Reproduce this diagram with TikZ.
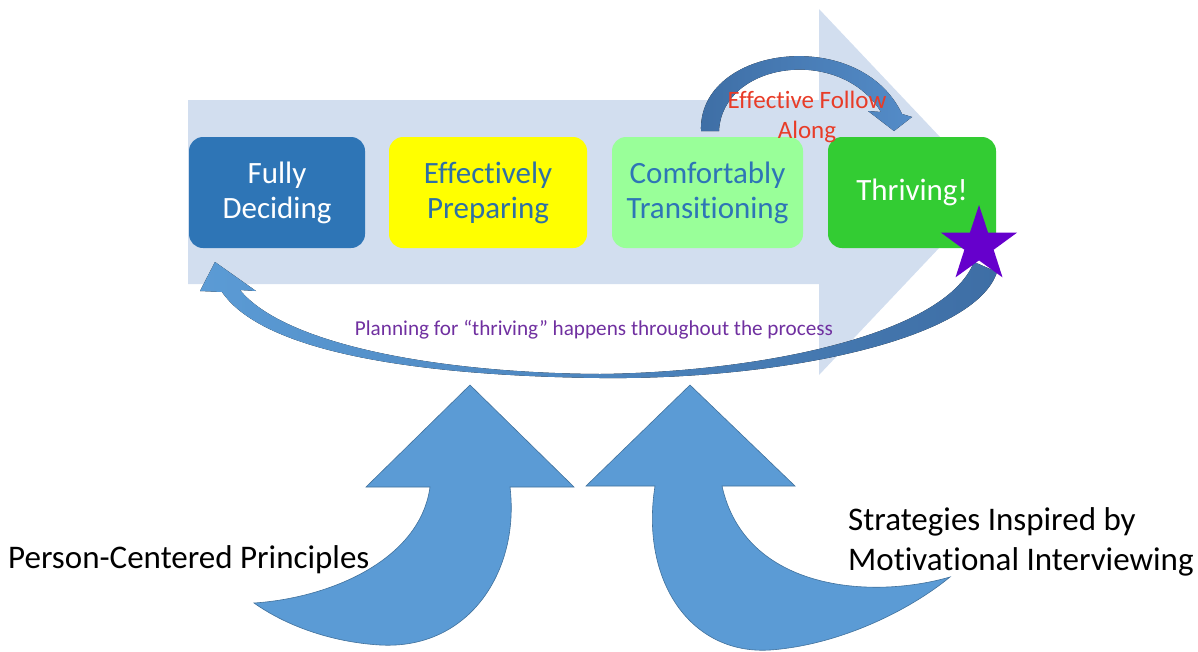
\documentclass[tikz,border=0pt]{standalone}
\usepackage{fontspec}
\setmainfont{Carlito}[Ligatures=CommonOff]
\usetikzlibrary{shapes.geometric, positioning}
\definecolor{bgarrow}{RGB}{210,222,239}
\definecolor{decide}{RGB}{46,117,182}
\definecolor{prepare}{RGB}{255,255,0}
\definecolor{transit}{RGB}{153,255,153}
\definecolor{thrive}{RGB}{51,204,51}
\definecolor{bluetext}{RGB}{46,112,165}
\definecolor{arcblue}{RGB}{84,140,200}
\definecolor{darkarc}{RGB}{62,110,165}
\definecolor{upblue}{RGB}{91,155,213}
\definecolor{upedge}{RGB}{65,113,156}
\definecolor{starpurple}{RGB}{102,0,204}
\definecolor{followred}{RGB}{232,60,40}
\definecolor{planpurple}{RGB}{112,48,160}
\tikzset{
  stage/.style={rounded corners=14pt, minimum height=111pt, inner sep=0pt, align=center, font=\fontsize{31}{35}\selectfont},
  uparrow/.style={fill=upblue, draw=upedge, line width=0.6pt},
  caption/.style={font=\fontsize{33}{40}\selectfont, align=left, anchor=west, inner sep=0pt}
}
\begin{document}
\begin{tikzpicture}[x=1pt, y=-1pt]
    \useasboundingbox (0,0) rectangle (1198,651);
    \fill[bgarrow] (188,100) -- (819,100) -- (819,9) -- (992,192) -- (819,375) -- (819,284) -- (188,284) -- cycle;
    \node[stage, fill=decide, text=white, minimum width=176pt] (fully) at (277,192.5) {Fully\\Deciding};
    \node[stage, fill=prepare, text=bluetext, minimum width=198pt] (prep) at (488,192.5) {Effectively\\Preparing};
    \node[stage, fill=transit, text=decide, minimum width=191pt] (trans) at (707.5,192.5) {Comfortably\\Transitioning};
    \node[stage, fill=thrive, text=white, minimum width=168pt] (thriving) at (912,192.5) {Thriving!};
    \fill[left color=darkarc, right color=arcblue] (701,131) .. controls (698,45) and (860,25) .. (902,114) -- (912,117) -- (894,131) -- (868,111) -- (881,112) .. controls (840,45) and (722,62) .. (719,131) -- cycle;
    \node[text=followred, font=\fontsize{25}{30}\selectfont, align=center] (follow) at (807,117) {Effective Follow\\Along};
    \fill[left color=upblue, right color=darkarc] (997,272) .. controls (975,340) and (780,380) .. (600,378) .. controls (430,376) and (265,355) .. (222,292) -- (200,291) -- (215,262) -- (256,291) -- (240,290) .. controls (285,345) and (440,373) .. (600,374) .. controls (760,372) and (945,335) .. (974,262) -- cycle;
    \node[star, star points=5, star point ratio=2.6, fill=starpurple, minimum size=80pt, inner sep=0pt] (goal) at (979,245) {};
    \node[text=planpurple, font=\fontsize{21.2}{24}\selectfont] (plan) at (594,330) {Planning for “thriving” happens throughout the process};
    \draw[uparrow] (470,385) -- (574,487) -- (510,487) .. controls (520,570) and (470,650) .. (380,645) .. controls (330,642) and (285,625) .. (254,603) .. controls (330,598) and (420,560) .. (430,487) -- (366,487) -- cycle;
    \draw[uparrow] (690,385) -- (795,486) -- (722,486) .. controls (745,590) and (870,600) .. (950,577) .. controls (910,610) and (840,645) .. (770,650) .. controls (690,655) and (640,580) .. (655,486) -- (586,486) -- cycle;
    \node[caption] (person) at (8,560) {Person-Centered Principles};
    \node[caption] (motiv) at (848,542) {Strategies Inspired by\\Motivational Interviewing};
\end{tikzpicture}
\end{document}
